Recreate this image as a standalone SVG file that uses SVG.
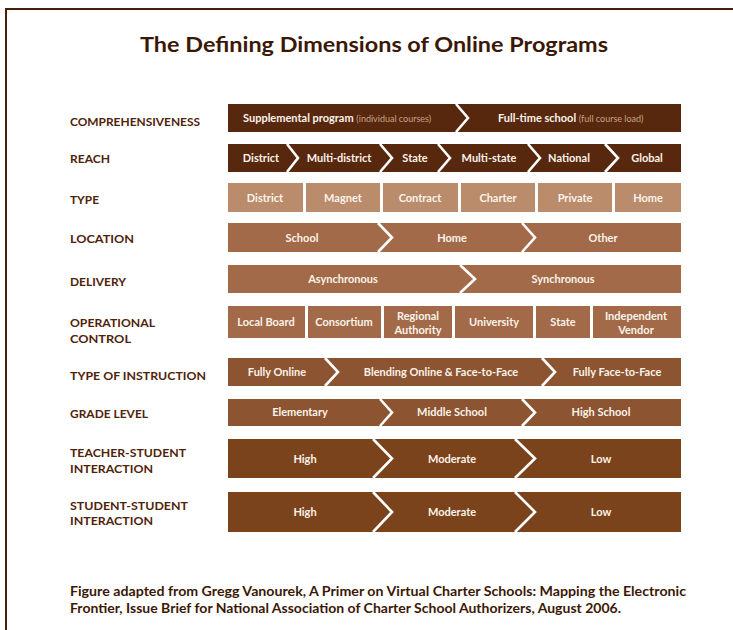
<svg xmlns="http://www.w3.org/2000/svg" width="733" height="630" viewBox="0 0 733 630">
<style>
.lbl{font-family:Lato,"Liberation Sans",sans-serif;font-weight:700;font-size:12px;fill:#4f230a}
.bt{font-family:Lato,"Liberation Sans",sans-serif;font-weight:700;font-size:11px;fill:#fbf3ea;text-anchor:middle}
.sm{font-family:Lato,"Liberation Sans",sans-serif;font-weight:400;font-size:9px;fill:#c9a386}
.sep{fill:none;stroke:#ffffff;stroke-width:2.6}
.c1{fill:#57280d}.c2{fill:#ba8c6c}.c3{fill:#a26a48}.c4{fill:#8c5430}.c5{fill:#7b431c}
</style>
<rect width="733" height="630" fill="#ffffff"/>
<g id="frame" fill="none" stroke="#4a1e08" stroke-width="2">
<path d="M733 9 H6 V630"/>
</g>
<text x="374" y="52" text-anchor="middle" textLength="468" lengthAdjust="spacingAndGlyphs" style="font-family:Lato,'Liberation Sans',sans-serif;font-weight:700;font-size:21px;fill:#3b1805">The Defining Dimensions of Online Programs</text>

<g id="row-comprehensiveness">
<text class="lbl" x="70" y="126" textLength="130" lengthAdjust="spacingAndGlyphs">COMPREHENSIVENESS</text>
<rect class="c1" x="228" y="104" width="453" height="28"/>
<polyline class="sep" points="456,104 468,118 456,132"/>
<text x="243" y="122" style="font-family:Lato,'Liberation Sans',sans-serif;font-weight:700;font-size:11px;fill:#fbf3ea">Supplemental program <tspan class="sm">(individual courses)</tspan></text>
<text x="498" y="122" style="font-family:Lato,'Liberation Sans',sans-serif;font-weight:700;font-size:11px;fill:#fbf3ea">Full-time school <tspan class="sm">(full course load)</tspan></text>
</g>

<g id="row-reach">
<text class="lbl" x="70" y="163" textLength="40" lengthAdjust="spacingAndGlyphs">REACH</text>
<rect class="c1" x="228" y="144" width="453" height="28"/>
<polyline class="sep" points="287,144 298,158 287,172"/>
<polyline class="sep" points="380,144 392,158 380,172"/>
<polyline class="sep" points="438,144 450,158 438,172"/>
<polyline class="sep" points="528,144 540,158 528,172"/>
<polyline class="sep" points="605,144 618,158 605,172"/>
<text class="bt" x="261" y="162">District</text>
<text class="bt" x="339" y="162">Multi-district</text>
<text class="bt" x="415" y="162">State</text>
<text class="bt" x="489" y="162">Multi-state</text>
<text class="bt" x="569" y="162">National</text>
<text class="bt" x="647" y="162">Global</text>
</g>

<g id="row-type">
<text class="lbl" x="70" y="204" textLength="29" lengthAdjust="spacingAndGlyphs">TYPE</text>
<rect class="c2" x="228" y="183" width="75" height="29"/>
<rect class="c2" x="306" y="183" width="74" height="29"/>
<rect class="c2" x="383" y="183" width="75" height="29"/>
<rect class="c2" x="461" y="183" width="74" height="29"/>
<rect class="c2" x="538" y="183" width="74" height="29"/>
<rect class="c2" x="615" y="183" width="66" height="29"/>
<text class="bt" x="265" y="202">District</text>
<text class="bt" x="343" y="202">Magnet</text>
<text class="bt" x="420" y="202">Contract</text>
<text class="bt" x="498" y="202">Charter</text>
<text class="bt" x="575" y="202">Private</text>
<text class="bt" x="648" y="202">Home</text>
</g>

<g id="row-location">
<text class="lbl" x="70" y="243" textLength="64" lengthAdjust="spacingAndGlyphs">LOCATION</text>
<rect class="c3" x="228" y="223" width="453" height="29"/>
<polyline class="sep" points="378,223 392,237.5 378,252"/>
<polyline class="sep" points="522,223 535,237.5 522,252"/>
<text class="bt" x="302" y="242">School</text>
<text class="bt" x="452" y="242">Home</text>
<text class="bt" x="603" y="242">Other</text>
</g>

<g id="row-delivery">
<text class="lbl" x="70" y="286" textLength="56" lengthAdjust="spacingAndGlyphs">DELIVERY</text>
<rect class="c3" x="228" y="265" width="453" height="28"/>
<polyline class="sep" points="460,265 475,279 460,293"/>
<text class="bt" x="343" y="283">Asynchronous</text>
<text class="bt" x="563" y="283">Synchronous</text>
</g>

<g id="row-operational-control">
<text class="lbl" x="70" y="327" textLength="85" lengthAdjust="spacingAndGlyphs">OPERATIONAL</text>
<text class="lbl" x="70" y="343" textLength="61" lengthAdjust="spacingAndGlyphs">CONTROL</text>
<rect class="c3" x="228" y="306" width="77" height="32"/>
<rect class="c3" x="308" y="306" width="73" height="32"/>
<rect class="c3" x="384" y="306" width="68" height="32"/>
<rect class="c3" x="455" y="306" width="78" height="32"/>
<rect class="c3" x="536" y="306" width="54" height="32"/>
<rect class="c3" x="593" y="306" width="88" height="32"/>
<text class="bt" x="266" y="326">Local Board</text>
<text class="bt" x="344" y="326">Consortium</text>
<text class="bt" x="418" y="320">Regional</text>
<text class="bt" x="418" y="334">Authority</text>
<text class="bt" x="494" y="326">University</text>
<text class="bt" x="563" y="326">State</text>
<text class="bt" x="636" y="320">Independent</text>
<text class="bt" x="636" y="334">Vendor</text>
</g>

<g id="row-type-of-instruction">
<text class="lbl" x="70" y="380" textLength="136" lengthAdjust="spacingAndGlyphs">TYPE OF INSTRUCTION</text>
<rect class="c4" x="228" y="358" width="453" height="28"/>
<polyline class="sep" points="325,358 338,372 325,386"/>
<polyline class="sep" points="542,358 555,372 542,386"/>
<text class="bt" x="277" y="376">Fully Online</text>
<text class="bt" x="441" y="376">Blending Online &amp; Face-to-Face</text>
<text class="bt" x="617" y="376">Fully Face-to-Face</text>
</g>

<g id="row-grade-level">
<text class="lbl" x="70" y="418" textLength="78" lengthAdjust="spacingAndGlyphs">GRADE LEVEL</text>
<rect class="c4" x="228" y="399" width="453" height="27"/>
<polyline class="sep" points="380,399 392,412.5 380,426"/>
<polyline class="sep" points="522,399 535,412.5 522,426"/>
<text class="bt" x="300" y="416">Elementary</text>
<text class="bt" x="452" y="416">Middle School</text>
<text class="bt" x="601" y="416">High School</text>
</g>

<g id="row-teacher-student-interaction">
<text class="lbl" x="70" y="457" textLength="116" lengthAdjust="spacingAndGlyphs">TEACHER-STUDENT</text>
<text class="lbl" x="70" y="473" textLength="83" lengthAdjust="spacingAndGlyphs">INTERACTION</text>
<rect class="c5" x="228" y="439" width="453" height="39"/>
<polyline class="sep" points="373,439 392,458.5 373,478"/>
<polyline class="sep" points="515,439 535,458.5 515,478"/>
<text class="bt" x="305" y="463">High</text>
<text class="bt" x="452" y="463">Moderate</text>
<text class="bt" x="601" y="463">Low</text>
</g>

<g id="row-student-student-interaction">
<text class="lbl" x="70" y="510" textLength="118" lengthAdjust="spacingAndGlyphs">STUDENT-STUDENT</text>
<text class="lbl" x="70" y="525" textLength="83" lengthAdjust="spacingAndGlyphs">INTERACTION</text>
<rect class="c5" x="228" y="492" width="453" height="40"/>
<polyline class="sep" points="373,492 392,512 373,532"/>
<polyline class="sep" points="515,492 535,512 515,532"/>
<text class="bt" x="305" y="516">High</text>
<text class="bt" x="452" y="516">Moderate</text>
<text class="bt" x="601" y="516">Low</text>
</g>

<g id="caption" style="font-family:Lato,'Liberation Sans',sans-serif;font-weight:700;font-size:12.5px;fill:#3b1805">
<text x="70" y="596" textLength="616" lengthAdjust="spacingAndGlyphs">Figure adapted from Gregg Vanourek, A Primer on Virtual Charter Schools: Mapping the Electronic</text>
<text x="70" y="613" textLength="551" lengthAdjust="spacingAndGlyphs">Frontier, Issue Brief for National Association of Charter School Authorizers, August 2006.</text>
</g>
</svg>
